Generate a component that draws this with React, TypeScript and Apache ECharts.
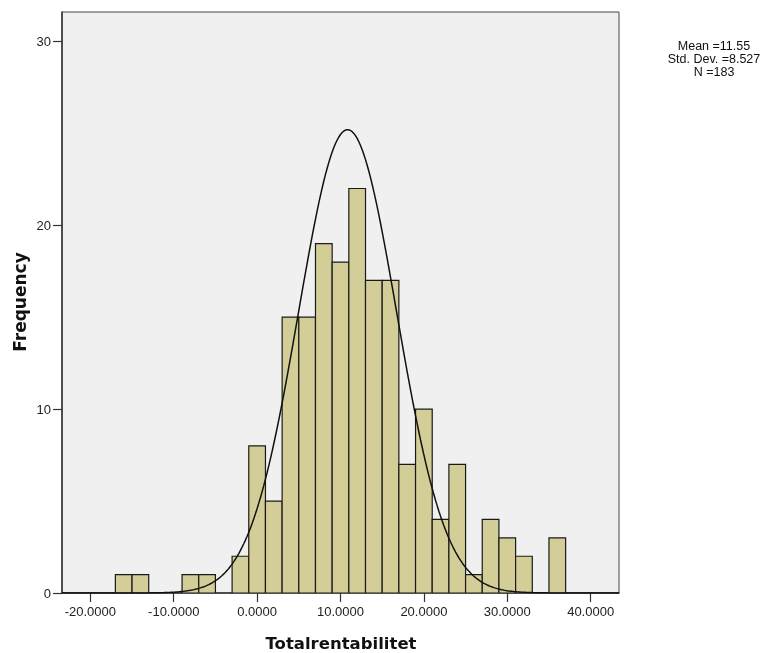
import React, { useEffect, useRef } from "react";
import * as echarts from "echarts";

// Histogram bins (centers) and frequencies
const binCenters = [-16, -14, -12, -10, -8, -6, -4, -2, 0, 2, 4, 6, 8, 10, 12, 14, 16, 18, 20, 22, 24, 26, 28, 30, 32, 34, 36];
const counts = [1, 1, 0, 0, 1, 1, 0, 2, 8, 5, 15, 15, 19, 18, 22, 17, 17, 7, 10, 4, 7, 1, 4, 3, 2, 0, 3];
const binWidth = 2;

// Tick labels
const xTicks = [-20, -10, 0, 10, 20, 30, 40];
const yTicks = [0, 10, 20, 30];

// Stats box
const statLines = ["Mean =11.55", "Std. Dev. =8.527", "N =183"];

// Fitted normal curve as drawn in the reference
const curveMean = 10.85;
const curveSd = 5.88;
const curvePeak = 25.2;

const xMin = -23.4;
const xMax = 43.4;
const yMax = 31.6;

export default function App() {
  const ref = useRef<HTMLDivElement>(null);
  useEffect(() => {
    if (!ref.current) return;
    const chart = echarts.init(ref.current, null, { renderer: "svg" });

    const barData = binCenters
      .map((c, i) => [c, counts[i]])
      .filter((d) => d[1] > 0);

    const curveData: number[][] = [];
    for (let i = 0; i <= 334; i++) {
      const x = xMin + i * 0.2;
      const y = curvePeak * Math.exp(-((x - curveMean) ** 2) / (2 * curveSd * curveSd));
      curveData.push([x, y]);
    }

    const labelFont = "'Liberation Sans', Arial, sans-serif";

    chart.setOption({
      animation: false,
      grid: {
        left: 62,
        right: 156,
        top: 12,
        bottom: 60,
        show: true,
        backgroundColor: "#f0f0f0",
        borderColor: "#444",
        borderWidth: 1,
      },
      xAxis: {
        type: "value",
        min: xMin,
        max: xMax,
        splitLine: { show: false },
        axisLine: { show: true, onZero: false, lineStyle: { color: "#333", width: 1.5 } },
        axisTick: {
          show: true,
          length: 9,
          customValues: xTicks,
          lineStyle: { color: "#333", width: 1.2 },
        },
        axisLabel: {
          customValues: xTicks,
          formatter: (v: number) => v.toFixed(4),
          margin: 12,
          fontSize: 13,
          fontFamily: labelFont,
          color: "#222",
        },
      },
      yAxis: {
        type: "value",
        min: 0,
        max: yMax,
        splitLine: { show: false },
        axisLine: { show: true, onZero: false, lineStyle: { color: "#333", width: 1.5 } },
        axisTick: {
          show: true,
          length: 9,
          customValues: yTicks,
          lineStyle: { color: "#333", width: 1.2 },
        },
        axisLabel: {
          customValues: yTicks,
          margin: 11,
          fontSize: 13,
          fontFamily: labelFont,
          color: "#222",
        },
      },
      series: [
        {
          type: "custom",
          data: barData,
          clip: true,
          z: 2,
          renderItem: (params: any, api: any) => {
            const x = api.value(0);
            const y = api.value(1);
            const p0 = api.coord([x - binWidth / 2, y]);
            const p1 = api.coord([x + binWidth / 2, 0]);
            return {
              type: "rect",
              shape: { x: p0[0], y: p0[1], width: p1[0] - p0[0], height: p1[1] - p0[1] },
              style: { fill: "#d3ce97", stroke: "#1a1a1a", lineWidth: 1.2 },
            };
          },
        },
        {
          type: "line",
          data: curveData,
          showSymbol: false,
          smooth: false,
          clip: true,
          z: 3,
          lineStyle: { color: "#111", width: 1.5 },
        },
      ],
      graphic: [
        {
          type: "text",
          x: 20,
          y: 302,
          rotation: Math.PI / 2,
          style: {
            text: "Frequency",
            fontSize: 17,
            fontWeight: "bold",
            fontFamily: "'DejaVu Sans', sans-serif",
            fill: "#111",
            textAlign: "center",
            textVerticalAlign: "middle",
          },
        },
        {
          type: "text",
          x: 341,
          y: 643,
          style: {
            text: "Totalrentabilitet",
            fontSize: 16.5,
            fontWeight: "bold",
            fontFamily: "'DejaVu Sans', sans-serif",
            fill: "#111",
            textAlign: "center",
            textVerticalAlign: "middle",
          },
        },
        ...statLines.map((t, i) => ({
          type: "text",
          x: 714,
          y: 46 + i * 13,
          style: {
            text: t,
            fontSize: 12.5,
            fontFamily: labelFont,
            fill: "#111",
            textAlign: "center",
            textVerticalAlign: "middle",
          },
        })),
      ],
    });

    return () => chart.dispose();
  }, []);

  return (
    <div
      ref={ref}
      style={{ position: "fixed", left: 0, top: 0, width: 775, height: 653 }}
    />
  );
}
